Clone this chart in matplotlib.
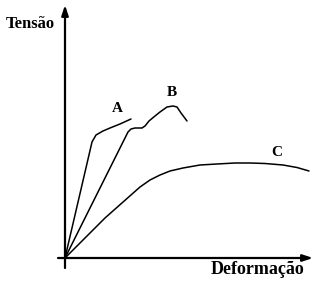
import matplotlib.pyplot as plt

# curvas tensão x deformação (unidades arbitrárias)
a_x = [0, 27, 31, 38, 45, 55, 66]
a_y = [0, 116, 123, 127, 130, 134, 139]

b_x = [0, 63, 66, 70, 77, 80, 84, 90, 95, 102, 108, 112, 116, 122]
b_y = [0, 126, 129, 130, 130, 132, 137, 142, 146, 151, 152, 151, 145, 137]

c_x = [0, 40, 75, 85, 95, 105, 118, 135, 152, 170, 185, 200, 218, 232, 244]
c_y = [0, 40, 71, 78, 83, 87, 90, 93, 94, 95, 95, 94.5, 93, 90.5, 87]

labels = ["A", "B", "C"]
label_pos = [(52, 150), (107, 165), (212, 105)]

plt.rcParams['font.family'] = ['Liberation Serif', 'DejaVu Serif']

fig = plt.figure(figsize=(3.19, 2.83), dpi=100)
ax = fig.add_axes([0, 0, 1, 1])
ax.set_xlim(-65, 254)
ax.set_ylim(-25, 258)
ax.axis('off')

for xs, ys in [(a_x, a_y), (b_x, b_y), (c_x, c_y)]:
    ax.plot(xs, ys, color='black', lw=1.1, solid_capstyle='round', solid_joinstyle='round')

for lab, (x, y) in zip(labels, label_pos):
    ax.text(x, y, lab, fontsize=11, fontweight='bold', ha='center', va='center')

# eixos com setas
arrow = dict(arrowstyle='-|>,head_length=0.6,head_width=0.2', color='black', lw=1.6,
             shrinkA=0, shrinkB=0)
ax.annotate('', xy=(0, 253), xytext=(0, -10), arrowprops=arrow)
ax.annotate('', xy=(248, 0), xytext=(-7, 0), arrowprops=arrow)

ax.text(-35, 234, 'Tensão', fontsize=12, fontweight='bold', ha='center', va='center')
ax.text(193, -11, 'Deformação', fontsize=13, fontweight='bold', ha='center', va='center')

fig.savefig('out.png', dpi=100)
